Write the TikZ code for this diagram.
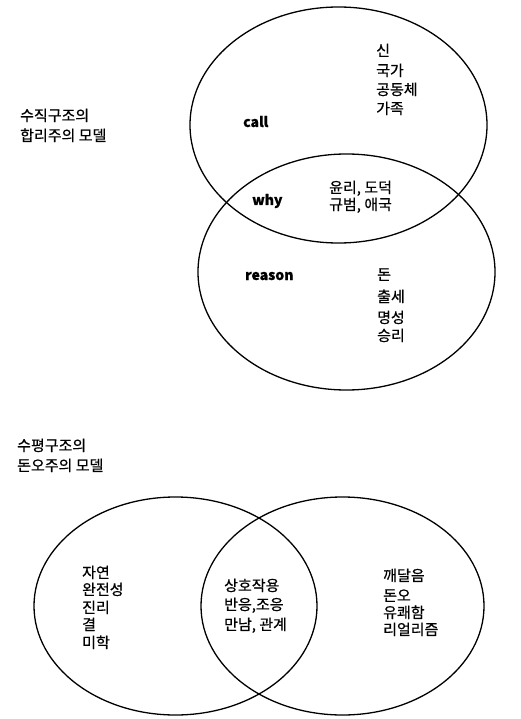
\documentclass[tikz,border=0pt]{standalone}
\usepackage{fontspec}
\newfontfamily\kr[FakeBold=0.6]{Noto Sans CJK KR}
\usetikzlibrary{shapes.geometric}
\tikzset{
  venn/.style={draw=black, line width=1.3pt, ellipse, inner sep=0pt},
  lbl/.style={anchor=base west, inner sep=0pt, font=\kr\fontsize{15}{16}\selectfont},
  lat/.style={anchor=base west, inner sep=0pt, font=\kr\bfseries\fontsize{14}{16}\selectfont}
}
\begin{document}
\begin{tikzpicture}[x=1pt,y=-1pt]
\useasboundingbox (0,0) rectangle (521,719);
% top venn
\node[venn, minimum width=297pt, minimum height=236pt] (e1) at (338.5,125) {};
\node[venn, minimum width=297pt, minimum height=236pt] (e2) at (346.5,272) {};
% bottom venn
\node[venn, minimum width=283pt, minimum height=218pt] (e3) at (175.5,606) {};
\node[venn, minimum width=283pt, minimum height=218pt] (e4) at (342.5,606) {};
% titles
\node[lbl] (t1a) at (20,121) {수직구조의};
\node[lbl] (t1b) at (20,141) {합리주의 모델};
\node[lbl] (t2a) at (17,451) {수평구조의};
\node[lbl] (t2b) at (17,471) {돈오주의 모델};
% top diagram
\node[lat] (call) at (243,127) {call};
\node[lbl] (a1) at (376,56) {신};
\node[lbl] (a2) at (376,76) {국가};
\node[lbl] (a3) at (376,95) {공동체};
\node[lbl] (a4) at (376,114) {가족};
\node[lat] (why) at (252,205) {why};
\node[lbl] (b1) at (329,193) {윤리, 도덕};
\node[lbl] (b2) at (329,210) {규범, 애국};
\node[lat] (reason) at (245,280) {reason};
\node[lbl] (c1) at (377,280) {돈};
\node[lbl] (c2) at (377,302) {출세};
\node[lbl] (c3) at (377,323) {명성};
\node[lbl] (c4) at (377,341) {승리};
% bottom diagram
\node[lbl] (d1) at (82,578) {자연};
\node[lbl] (d2) at (82,595) {완전성};
\node[lbl] (d3) at (82,613) {진리};
\node[lbl] (d4) at (82,630) {결};
\node[lbl] (d5) at (82,648) {미학};
\node[lbl] (m1) at (224,591) {상호작용};
\node[lbl] (m2) at (224,610) {반응,조응};
\node[lbl] (m3) at (224,630) {만남, 관계};
\node[lbl] (r1) at (383,581) {깨달음};
\node[lbl] (r2) at (383,601) {돈오};
\node[lbl] (r3) at (383,618) {유쾌함};
\node[lbl] (r4) at (383,635) {리얼리즘};
\end{tikzpicture}
\end{document}
